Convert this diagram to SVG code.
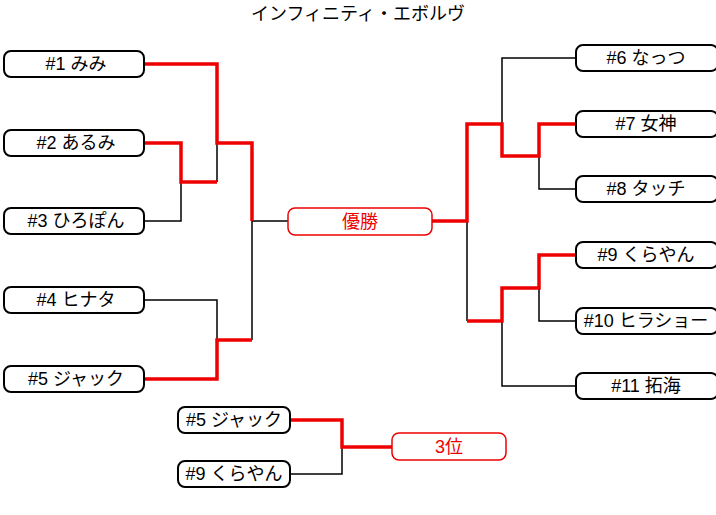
<svg xmlns="http://www.w3.org/2000/svg" width="716" height="515" viewBox="0 0 716 515">
<style>
text{font-family:"Liberation Sans","Noto Sans CJK JP",sans-serif;font-size:18px;text-anchor:middle;dominant-baseline:central}
.b{fill:#fff;stroke:#000;stroke-width:2}
.w{fill:#fff;stroke:#e00;stroke-width:1.5}
.k{fill:none;stroke:#000;stroke-width:1.5}
.r{fill:none;stroke:#e00;stroke-width:3.5}
</style>
<rect width="716" height="515" fill="#fff"/>
<text x="358" y="14" font-size="20">インフィニティ・エボルヴ</text>
<g id="connectors">
<path class="k" d="M217 143V182M144 221H181V182M144 300H217V340M252 221V340M252 221H288"/>
<path class="r" d="M144 64H217V143H252V221M144 143H181V182H217M144 379H217V340H252"/>
<path class="k" d="M576 58H502V124M539 156V189H576M467 221V321M576 321H539V288M502 321V386H576"/>
<path class="r" d="M432 221H467V124H502V156H539V124H576M576 255H539V288H502V321H467"/>
<path class="k" d="M290 474H342V447"/>
<path class="r" d="M290 420H342V447H392"/>
</g>
<g id="n1"><rect class="b" x="4" y="51" width="140" height="26" rx="7"/><text x="76" y="64">#1 みみ</text></g>
<g id="n2"><rect class="b" x="4" y="130" width="140" height="26" rx="7"/><text x="76" y="143">#2 あるみ</text></g>
<g id="n3"><rect class="b" x="4" y="208" width="140" height="26" rx="7"/><text x="76" y="221">#3 ひろぽん</text></g>
<g id="n4"><rect class="b" x="4" y="287" width="140" height="26" rx="7"/><text x="76" y="300">#4 ヒナタ</text></g>
<g id="n5"><rect class="b" x="4" y="366" width="140" height="26" rx="7"/><text x="76" y="379">#5 ジャック</text></g>
<g id="win"><rect class="w" x="288" y="208" width="144" height="27" rx="7"/><text x="360" y="221.5" fill="#e00">優勝</text></g>
<g id="n6"><rect class="b" x="576" y="45" width="142" height="26" rx="7"/><text x="646" y="58">#6 なっつ</text></g>
<g id="n7"><rect class="b" x="576" y="111" width="142" height="26" rx="7"/><text x="646" y="124">#7 女神</text></g>
<g id="n8"><rect class="b" x="576" y="176" width="142" height="26" rx="7"/><text x="646" y="189">#8 タッチ</text></g>
<g id="n9"><rect class="b" x="576" y="242" width="142" height="26" rx="7"/><text x="646" y="255">#9 くらやん</text></g>
<g id="n10"><rect class="b" x="576" y="308" width="142" height="26" rx="7"/><text x="646" y="321" font-size="16">#10 ヒラショー</text></g>
<g id="n11"><rect class="b" x="576" y="373" width="142" height="26" rx="7"/><text x="646" y="386">#11 拓海</text></g>
<g id="t5"><rect class="b" x="178" y="407" width="112" height="26" rx="7"/><text x="234" y="420" font-size="16">#5 ジャック</text></g>
<g id="t9"><rect class="b" x="178" y="461" width="112" height="26" rx="7"/><text x="234" y="474" font-size="16">#9 くらやん</text></g>
<g id="third"><rect class="w" x="392" y="433" width="114" height="27" rx="7"/><text x="449" y="446.5" fill="#e00">3位</text></g>
</svg>
